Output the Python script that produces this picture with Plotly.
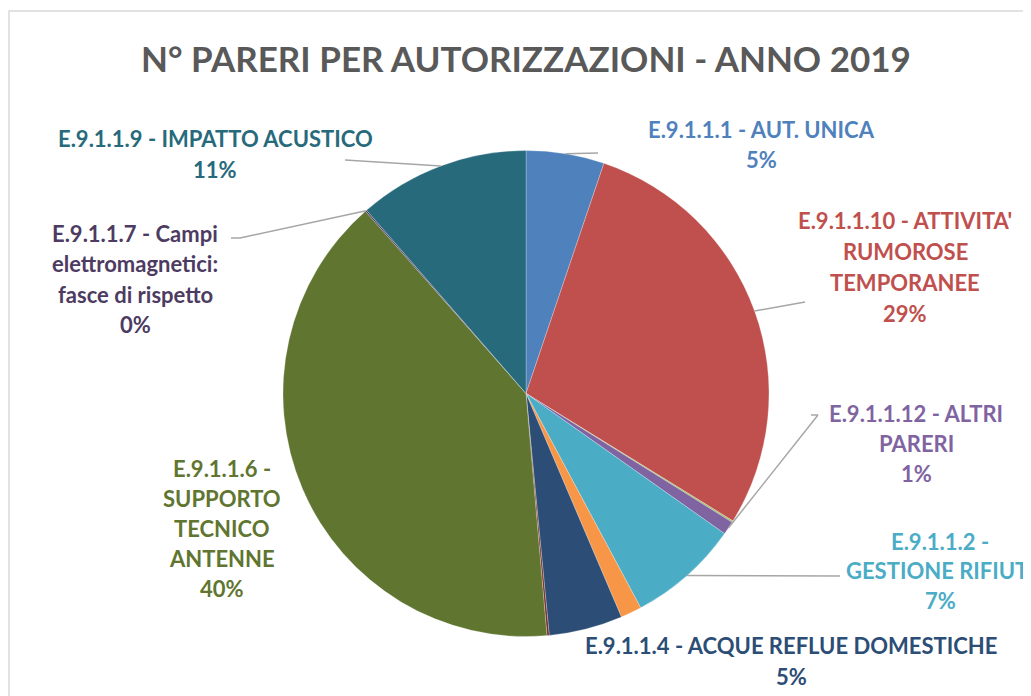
import math
import plotly.graph_objects as go

# ---------------- data ----------------
categories = [
    "E.9.1.1.1 - AUT. UNICA",
    "E.9.1.1.10 - ATTIVITA' RUMOROSE TEMPORANEE",
    "E.9.1.1.11",
    "E.9.1.1.12 - ALTRI PARERI",
    "E.9.1.1.2 - GESTIONE RIFIUTI",
    "E.9.1.1.3",
    "E.9.1.1.4 - ACQUE REFLUE DOMESTICHE",
    "E.9.1.1.5",
    "E.9.1.1.6 - SUPPORTO TECNICO ANTENNE",
    "E.9.1.1.7 - Campi elettromagnetici: fasce di rispetto",
    "E.9.1.1.9 - IMPATTO ACUSTICO",
]
values = [5.2, 28.6, 0.1, 0.9, 7.4, 1.4, 4.9, 0.15, 39.9, 0.1, 11.4]

# label text lines (percent line is computed from values)
label_lines = {
    0: ["E.9.1.1.1 - AUT. UNICA"],
    1: ["E.9.1.1.10 - ATTIVITA'", "RUMOROSE", "TEMPORANEE"],
    3: ["E.9.1.1.12 - ALTRI", "PARERI"],
    4: ["E.9.1.1.2 -", "GESTIONE RIFIUTI"],
    6: ["E.9.1.1.4 - ACQUE REFLUE DOMESTICHE"],
    8: ["E.9.1.1.6 -", "SUPPORTO", "TECNICO", "ANTENNE"],
    9: ["E.9.1.1.7 - Campi", "elettromagnetici:", "fasce di rispetto"],
    10: ["E.9.1.1.9 - IMPATTO ACUSTICO"],
}
title_text = "N° PARERI PER AUTORIZZAZIONI - ANNO 2019"

# ---------------- style / layout ----------------
OFF = 8  # page body margin
W, H = 1031 - OFF, 696 - OFF
colors = ["#4F81BD", "#C0504D", "#9BBB59", "#8064A2", "#4BACC6", "#F79646",
          "#2C4D75", "#772C2A", "#5F7530", "#4D3B62", "#276A7C"]
text_colors = {0: "#4F81BD", 1: "#C0504D", 3: "#8064A2", 4: "#4BACC6",
               6: "#2C4D75", 8: "#5F7530", 9: "#4D3B62", 10: "#276A7C"}
CX, CY, R = 526.0, 393.5, 243.0  # pie centre / radius in screen px

# label block placement: (x centre px, first-line y px, line spacing px)
label_pos = {
    0: (761, 130, 29.5),
    1: (905, 220, 31),
    3: (916, 413, 30),
    4: (940, 541, 29.5),
    6: (791, 645, 31.5),
    8: (222, 468, 30),
    9: (135, 233, 30.5),
    10: (215, 138, 32),
}
# leader line end points (px) near the labels
leader_end = {
    0: [(598, 153)],
    1: [(805, 302)],
    3: [(818, 415), (811, 415)],
    4: [(840, 576)],
    10: [(345, 160)],
    9: [(240, 238), (231, 238)],
}

FONT = "Lato"
LABEL_SIZE = 22


def px_to_paper(x, y):
    return (x - OFF) / W, 1 - (y - OFF) / H


total = sum(values)
fig = go.Figure()
dx0, _ = px_to_paper(CX - R, 0)
dx1, _ = px_to_paper(CX + R, 0)
_, dy0 = px_to_paper(0, CY + R)
_, dy1 = px_to_paper(0, CY - R)
fig.add_trace(go.Pie(
    labels=categories,
    values=values,
    sort=False,
    direction="clockwise",
    rotation=0,
    marker=dict(colors=colors, line=dict(color="rgba(255,255,255,0.5)", width=0.5)),
    textinfo="none",
    hoverinfo="label+percent",
    showlegend=False,
    domain=dict(x=[dx0, dx1], y=[dy0, dy1]),
))

annotations = []
shapes = []

# title
tx, ty = px_to_paper(526, 58)
annotations.append(dict(x=tx, y=ty, xref="paper", yref="paper", text=title_text,
                        showarrow=False, xanchor="center", yanchor="middle",
                        font=dict(family=FONT, size=35, color="#595959", weight="bold")))

# labels
cum = 0.0
mids = []
for v in values:
    mids.append((cum + v / 2) / total)
    cum += v

for idx, lines in label_lines.items():
    pct = f"{round(values[idx] / total * 100)}%"
    all_lines = lines + [pct]
    xc, y0, dy = label_pos[idx]
    for k, t in enumerate(all_lines):
        ax, ay = px_to_paper(xc, y0 + k * dy)
        annotations.append(dict(x=ax, y=ay, xref="paper", yref="paper", text=t,
                                showarrow=False, xanchor="center", yanchor="middle",
                                font=dict(family=FONT, size=LABEL_SIZE,
                                          color=text_colors[idx], weight="bold")))

# leader lines (start point computed from slice mid-angle)
for idx, ends in leader_end.items():
    ang = mids[idx] * 2 * math.pi
    sx = CX + R * math.sin(ang)
    sy = CY - R * math.cos(ang)
    pts = [(sx, sy)] + ends
    for (x0, y0), (x1, y1) in zip(pts[:-1], pts[1:]):
        p0 = px_to_paper(x0, y0)
        p1 = px_to_paper(x1, y1)
        shapes.append(dict(type="line", xref="paper", yref="paper",
                           x0=p0[0], y0=p0[1], x1=p1[0], y1=p1[1],
                           line=dict(color="#A6A6A6", width=1.5)))

# chart border
b0 = px_to_paper(5, 11)
shapes.append(dict(type="rect", xref="paper", yref="paper",
                   x0=max(b0[0], 0.001), y0=-0.05, x1=1.05, y1=b0[1],
                   line=dict(color="#D9D9D9", width=1.5)))

fig.update_layout(
    width=W, height=H,
    margin=dict(l=0, r=0, t=0, b=0),
    paper_bgcolor="white",
    plot_bgcolor="white",
    annotations=annotations,
    shapes=shapes,
)

fig.write_html("out.html")
